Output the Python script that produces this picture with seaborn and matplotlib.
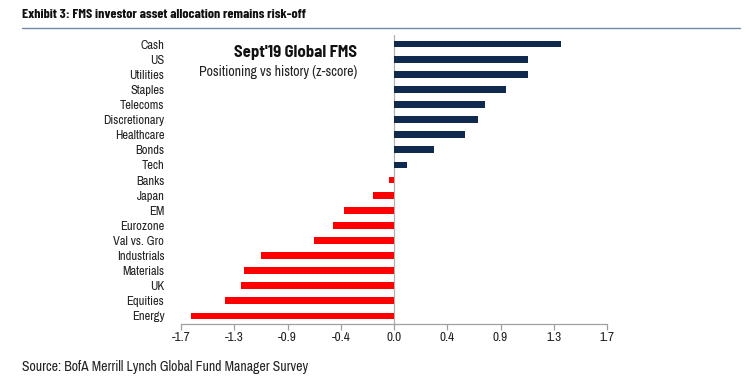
import matplotlib
matplotlib.use("Agg")
import matplotlib.pyplot as plt
import matplotlib.ticker as mticker
import numpy as np
import pandas as pd
import seaborn as sns

# Data
categories = ["Cash", "US", "Utilities", "Staples", "Telecoms", "Discretionary",
              "Healthcare", "Bonds", "Tech", "Banks", "Japan", "EM", "Eurozone",
              "Val vs. Gro", "Industrials", "Materials", "UK", "Equities", "Energy"]
zscores = [1.33, 1.07, 1.07, 0.89, 0.73, 0.67, 0.57, 0.32, 0.10, -0.04, -0.17,
           -0.40, -0.49, -0.64, -1.06, -1.20, -1.22, -1.35, -1.62]
tick_values = [-1.7, -1.275, -0.85, -0.425, 0.0, 0.425, 0.85, 1.275, 1.7]
tick_labels = ["-1.7", "-1.3", "-0.9", "-0.4", "0.0", "0.4", "0.9", "1.3", "1.7"]

NAVY = "#10294f"
RED = "#ff0000"
BOLD_FONT = ["Barlow Semi Condensed", "Liberation Sans Narrow", "DejaVu Sans"]
TITLE_FONT = ["Barlow Condensed", "Liberation Sans Narrow", "DejaVu Sans"]

sns.set_theme(style="white")
plt.rcParams["font.family"] = ["Archivo Narrow", "Liberation Sans Narrow", "Liberation Sans", "DejaVu Sans"]

df = pd.DataFrame({"category": categories, "z": zscores})
df["side"] = np.where(df["z"] >= 0, "pos", "neg")

fig = plt.figure(figsize=(7.49, 3.89), dpi=100)
ax = fig.add_axes([181 / 749, 1 - 324 / 389, 426 / 749, 289 / 389])

sns.barplot(data=df, x="z", y="category", hue="side", order=categories,
            palette={"pos": NAVY, "neg": RED}, dodge=False, width=0.45,
            saturation=1, legend=False, ax=ax, edgecolor="none", orient="h")

ax.set_xlim(-1.7, 1.7)
ax.set_ylim(18.53, -0.6)
ax.xaxis.set_major_locator(mticker.FixedLocator(tick_values))
ax.xaxis.set_major_formatter(mticker.FixedFormatter(tick_labels))
ax.set_xlabel("")
ax.set_ylabel("")
ax.axvline(0, color="#b0b0b0", lw=0.9, zorder=0)

for side in ["top", "right", "left"]:
    ax.spines[side].set_visible(False)
ax.spines["bottom"].set_color("#a0a0a0")
ax.spines["bottom"].set_linewidth(0.9)
ax.tick_params(axis="x", bottom=True, length=4, width=0.9, color="#a0a0a0",
               labelsize=9.5, pad=2, labelcolor="#222222")
ax.tick_params(axis="y", left=False, labelsize=9, pad=6, labelcolor="#222222")

fig.text(357 / 749, 1 - 53 / 389, "Sept'19 Global FMS",
         ha="right", va="center", fontsize=12, fontweight="bold", color="#111111",
         family=BOLD_FONT)
fig.text(357 / 749, 1 - 72 / 389, "Positioning vs history (z-score)",
         ha="right", va="center", fontsize=10, color="#222222")

fig.text(22 / 749, 1 - 15 / 389, "Exhibit 3: FMS investor asset allocation remains risk-off",
         ha="left", va="center", fontsize=10.1, fontweight="bold", color="#111111",
         family=TITLE_FONT)
fig.add_artist(plt.Line2D([22 / 749, 740 / 749], [1 - 28 / 389, 1 - 28 / 389],
                          transform=fig.transFigure, color="#6f8bab", lw=1.0))
fig.text(22 / 749, 1 - 367 / 389, "Source: BofA Merrill Lynch Global Fund Manager Survey",
         ha="left", va="center", fontsize=9.9, color="#222222")

fig.savefig("out.png", dpi=100)
